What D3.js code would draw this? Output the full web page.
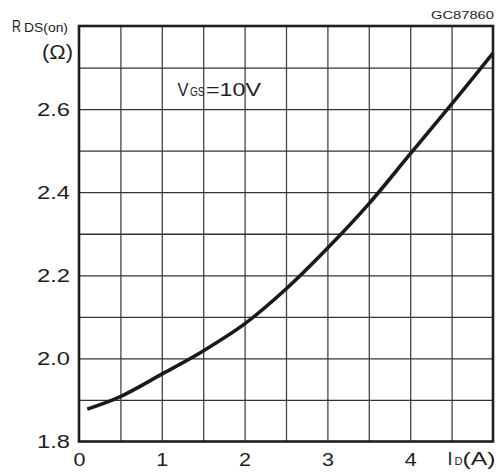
<!DOCTYPE html>
<html>
<head>
<meta charset="utf-8">
<script src="https://cdn.jsdelivr.net/npm/d3@7"></script>
<style>
  html, body { margin: 0; padding: 0; background: #fff; }
  svg { display: block; }
  text { font-family: "Liberation Sans", Arial, Helvetica, sans-serif; fill: #1e1e1e; }
</style>
</head>
<body>
<svg id="chart" width="504" height="474"></svg>
<script>
// Drain current (A) and on-state resistance (ohm) at VGS = 10 V
const currentA = [0.1, 0.5, 1.0, 1.5, 2.0, 2.5, 3.0, 3.5, 4.0, 4.5, 5.0];
const rdsOn    = [1.878, 1.908, 1.962, 2.018, 2.083, 2.167, 2.265, 2.372, 2.492, 2.612, 2.735];

const xTickLabels = [0, 1, 2, 3, 4];
const yTickLabels = [1.8, 2.0, 2.2, 2.4, 2.6];
const xGridValues = [0.5, 1, 1.5, 2, 2.5, 3, 3.5, 4, 4.5];
const yGridValues = [1.9, 2.0, 2.1, 2.2, 2.3, 2.4, 2.5, 2.6, 2.7];

const plotLeft = 79, plotRight = 493, plotTop = 26, plotBottom = 441.5;
const w = plotRight - plotLeft, h = plotBottom - plotTop;

const x = d3.scaleLinear().domain([0, 5]).range([0, w]);
const y = d3.scaleLinear().domain([1.8, 2.8]).range([h, 0]);

const svg = d3.select("#chart");
const g = svg.append("g").attr("transform", `translate(${plotLeft},${plotTop})`);

// grid
g.append("g")
  .attr("transform", `translate(0,${h})`)
  .call(d3.axisBottom(x).tickValues(xGridValues).tickSize(-h).tickFormat(""))
  .call(a => a.select(".domain").remove())
  .call(a => a.selectAll("line").attr("stroke", "#444").attr("stroke-width", 1.3));

g.append("g")
  .call(d3.axisLeft(y).tickValues(yGridValues).tickSize(-w).tickFormat(""))
  .call(a => a.select(".domain").remove())
  .call(a => a.selectAll("line").attr("stroke", "#333").attr("stroke-width", 1.3));

// tick labels
g.append("g")
  .attr("transform", `translate(0,${h})`)
  .call(d3.axisBottom(x).tickValues(xTickLabels).tickSize(0).tickFormat(d3.format("d")))
  .call(a => a.select(".domain").remove())
  .call(a => a.selectAll("text")
    .attr("y", 24).attr("dy", null)
    .attr("font-size", 18).attr("fill", "#1e1e1e")
    .attr("font-family", "Liberation Sans, Arial, sans-serif")
    .attr("textLength", 12).attr("lengthAdjust", "spacingAndGlyphs"));

g.append("g")
  .call(d3.axisLeft(y).tickValues(yTickLabels).tickSize(0).tickFormat(d3.format(".1f")))
  .call(a => a.select(".domain").remove())
  .call(a => a.selectAll("text")
    .attr("x", -9).attr("dy", "0.36em")
    .attr("font-size", 17.5).attr("fill", "#1e1e1e")
    .attr("font-family", "Liberation Sans, Arial, sans-serif")
    .attr("textLength", 33).attr("lengthAdjust", "spacingAndGlyphs"));

// curve
const line = d3.line()
  .x((d, i) => x(currentA[i]))
  .y(d => y(d))
  .curve(d3.curveCatmullRom.alpha(0.5));

g.append("path")
  .datum(rdsOn)
  .attr("d", line)
  .attr("fill", "none")
  .attr("stroke", "#1a1a1a")
  .attr("stroke-width", 3.6)
  .attr("stroke-linecap", "butt");

// frame
g.append("rect")
  .attr("x", 0).attr("y", 0).attr("width", w).attr("height", h)
  .attr("fill", "none").attr("stroke", "#1e1e1e").attr("stroke-width", 2.6);

// labels
function label(txt, px, py, size, len, anchor) {
  const t = svg.append("text")
    .attr("x", px).attr("y", py)
    .attr("font-size", size)
    .attr("text-anchor", anchor || "start")
    .text(txt);
  if (len) t.attr("textLength", len).attr("lengthAdjust", "spacingAndGlyphs");
  return t;
}

label("R", 12, 31.5, 17, 9);
label("DS(on)", 24, 31.5, 12, 44);
label("(Ω)", 73, 59, 20, 31, "end");

label("GC87860", 494, 19, 11, 63, "end");

label("V", 177.5, 96, 18, 11);
label("GS", 190, 96, 12, 14.5);
label("=10V", 206, 96, 18, 55);

label("I", 447.5, 465, 18, 5);
label("D", 454.5, 465, 11, 8);
label("(A)", 462.5, 465, 18.5, 33);
</script>
</body>
</html>
